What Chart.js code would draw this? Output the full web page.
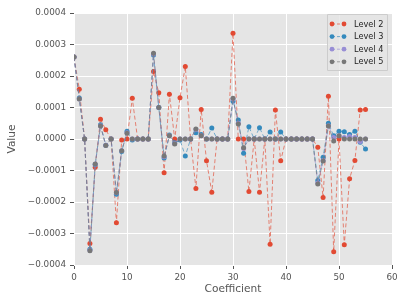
<!DOCTYPE html>
<html>
<head>
<meta charset="utf-8">
<script src="https://cdn.jsdelivr.net/npm/chart.js@4.4.0/dist/chart.umd.min.js"></script>
<style>
  html, body { margin: 0; padding: 0; background: #ffffff; }
  canvas { display: block; }
</style>
</head>
<body>
<canvas id="grafico" width="407" height="305"></canvas>
<script>
// =====================
// Datos
// =====================
const coeficientes = [
  0, 1, 2, 3, 4, 5, 6, 7, 8, 9, 10, 11, 12, 13, 14, 15, 16, 17, 18, 19,
  20, 21, 22, 23, 24, 25, 26, 27, 28, 29, 30, 31, 32, 33, 34, 35, 36, 37, 38, 39,
  40, 41, 42, 43, 44, 45, 46, 47, 48, 49, 50, 51, 52, 53, 54, 55
];

const level2 = [
  0.00026, 0.000158, 0, -0.000332, -0.00009, 0.000063, 0.000029, 0, -0.000266, -0.000003,
  0, 0.000129, 0, 0, 0, 0.000214, 0.000147, -0.000107, 0.000142, 0,
  0.000131, 0.00023, 0, -0.000157, 0.000094, -0.000069, -0.000169, 0, 0, 0,
  0.000336, 0, 0, -0.000167, 0, -0.000169, 0, -0.000334, 0.000092, -0.000069,
  0, 0, 0, 0, 0, 0, -0.000026, -0.000186, 0.000136, -0.000358,
  0, -0.000336, -0.000126, -0.000068, 0.000092, 0.000094
];

const level3 = [
  0.00026, 0.00013, 0, -0.00035, -0.000082, 0.000045, -0.00002, 0, -0.000175, -0.00004,
  0.000025, -0.000003, 0, 0, 0, 0.000267, 0.0001, -0.00006, 0.000013, -0.000012,
  -0.000003, -0.000054, 0, 0.00002, 0.000014, 0, 0.000035, 0, 0, 0,
  0.00012, 0.00006, -0.000045, 0.000039, 0, 0.000036, 0, 0.000022, 0, 0.000022,
  0, 0, 0, 0, 0, 0, -0.000132, -0.000058, 0.00005, 0.00001,
  0.000025, 0.000023, 0.000014, 0.000025, -0.00001, -0.000032
];

const level4 = [
  0.00026, 0.000127, 0, -0.000353, -0.00008, 0.000042, -0.00002, 0, -0.000171, -0.000037,
  0.00002, 0, 0, 0, 0, 0.00027, 0.0001, -0.000056, 0.00001, -0.000014,
  0, 0, 0, 0.00003, 0.00001, 0, 0, 0, 0, 0,
  0.000127, 0.00005, -0.00003, 0, 0, 0, 0, 0, 0, 0,
  0, 0, 0, 0, 0, 0, -0.00014, -0.000068, 0.000042, 0.000005,
  0.00001, 0.000005, 0.000008, 0.000005, -0.000008, 0
];

const level5 = [
  0.00026, 0.000127, 0, -0.000355, -0.000079, 0.000041, -0.000021, 0, -0.00017, -0.000037,
  0.000018, 0, 0, 0, 0, 0.000272, 0.0001, -0.000054, 0.00001, -0.000016,
  0, 0, 0, 0.000032, 0.00001, 0, 0, 0, 0, 0,
  0.000129, 0.000048, -0.000028, 0, 0, 0, 0, 0, 0, 0,
  0, 0, 0, 0, 0, 0, -0.000143, -0.00007, 0.000041, -0.000006,
  0.00001, 0, 0, 0, 0, 0
];

const nombres = ["Level 2", "Level 3", "Level 4", "Level 5"];
const colores = ["#E24A33", "#348ABD", "#988ED5", "#777777"];
const series = [level2, level3, level4, level5];

const xTicks = [0, 10, 20, 30, 40, 50, 60];
const yTicks = [-0.0004, -0.0003, -0.0002, -0.0001, 0, 0.0001, 0.0002, 0.0003, 0.0004];

// =====================
// Funciones auxiliares
// =====================
function conAlfa(hex, a) {
  const r = parseInt(hex.slice(1, 3), 16);
  const g = parseInt(hex.slice(3, 5), 16);
  const b = parseInt(hex.slice(5, 7), 16);
  return `rgba(${r},${g},${b},${a})`;
}

function etiquetaY(v) {
  const s = Math.abs(v).toFixed(4);
  return v < -1e-12 ? "\u2212" + s : s;
}

const FUENTE = "'DejaVu Sans', sans-serif";
const ALFA_LINEA = 0.65;

// fondo gris del área de trazado
const fondoPlugin = {
  id: "fondo",
  beforeDraw(chart) {
    const { ctx, chartArea: a } = chart;
    ctx.save();
    ctx.fillStyle = "#E5E5E5";
    ctx.fillRect(a.left, a.top, a.right - a.left, a.bottom - a.top);
    ctx.restore();
  }
};

// leyenda dentro del gráfico (arriba a la derecha)
const leyendaPlugin = {
  id: "leyenda",
  afterDraw(chart) {
    const { ctx, chartArea: a } = chart;
    const w = 60, h = 56;
    const x0 = a.right - 5 - w, y0 = a.top + 1;
    ctx.save();
    ctx.fillStyle = "rgba(229,229,229,0.8)";
    ctx.strokeStyle = "#CCCCCC";
    ctx.lineWidth = 1;
    ctx.beginPath();
    ctx.rect(x0 + 0.5, y0 + 0.5, w, h);
    ctx.fill();
    ctx.stroke();
    ctx.font = "8.2px " + FUENTE;
    ctx.textBaseline = "middle";
    nombres.forEach((nombre, i) => {
      const y = y0 + 10 + i * 12.6;
      const xa = x0 + 5, xb = x0 + 17;
      ctx.strokeStyle = conAlfa(colores[i], ALFA_LINEA);
      ctx.setLineDash([3, 2]);
      ctx.beginPath();
      ctx.moveTo(xa, y);
      ctx.lineTo(xb, y);
      ctx.stroke();
      ctx.setLineDash([]);
      ctx.fillStyle = colores[i];
      [xa, xb].forEach(px => {
        ctx.beginPath();
        ctx.arc(px, y, 2.4, 0, Math.PI * 2);
        ctx.fill();
      });
      ctx.fillStyle = "#222222";
      ctx.fillText(nombre, x0 + 27, y + 0.5);
    });
    ctx.restore();
  }
};

// =====================
// Gráfico
// =====================
const datasets = series.map((valores, i) => ({
  label: nombres[i],
  data: coeficientes.map((c, k) => ({ x: c, y: valores[k] })),
  borderColor: conAlfa(colores[i], ALFA_LINEA),
  backgroundColor: colores[i],
  pointBackgroundColor: colores[i],
  pointBorderWidth: 0,
  pointRadius: 2.5,
  borderWidth: 1,
  borderDash: [4, 2.5],
  tension: 0,
  order: series.length - i
}));

new Chart(document.getElementById("grafico"), {
  type: "line",
  data: { datasets: datasets },
  options: {
    responsive: false,
    animation: false,
    layout: { padding: { top: 13, right: 15, left: 0, bottom: 0 } },
    plugins: {
      legend: { display: false },
      tooltip: { enabled: false }
    },
    scales: {
      x: {
        type: "linear",
        min: 0,
        max: 60,
        afterBuildTicks: s => { s.ticks = xTicks.map(v => ({ value: v })); },
        afterFit: s => { s.height = 40; },
        ticks: {
          color: "#555555",
          font: { family: FUENTE, size: 8.8 },
          padding: 3,
          maxRotation: 0
        },
        grid: {
          color: "#FFFFFF",
          lineWidth: 1,
          tickColor: "#555555",
          tickLength: 4
        },
        border: { display: false },
        title: {
          display: true,
          text: "Coefficient",
          color: "#555555",
          font: { family: FUENTE, size: 10.6 },
          padding: { top: 0, bottom: 9 }
        }
      },
      y: {
        type: "linear",
        min: -0.0004,
        max: 0.0004,
        afterBuildTicks: s => { s.ticks = yTicks.map(v => ({ value: v })); },
        afterFit: s => { s.width = 74; },
        ticks: {
          color: "#555555",
          font: { family: FUENTE, size: 8.8 },
          padding: 4,
          callback: v => etiquetaY(v)
        },
        grid: {
          color: "#FFFFFF",
          lineWidth: 1,
          tickColor: "#555555",
          tickLength: 4
        },
        border: { display: false },
        title: {
          display: true,
          text: "Value",
          color: "#555555",
          font: { family: FUENTE, size: 10.6 },
          padding: { top: 6, bottom: 0 }
        }
      }
    }
  },
  plugins: [fondoPlugin, leyendaPlugin]
});
</script>
</body>
</html>
